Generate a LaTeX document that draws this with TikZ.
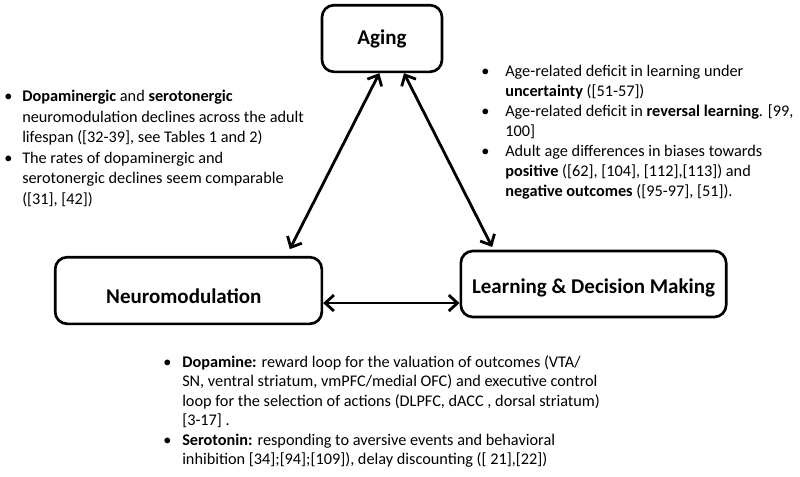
\documentclass[tikz,border=0pt]{standalone}
\usepackage{fontspec}
\setmainfont{Carlito}
\usetikzlibrary{arrows.meta}
\newcommand{\itm}[1]{\makebox[#1][l]{\textbullet}}
\newcommand{\cnt}[1]{\hspace*{#1}}
\newcommand{\baixa}[2]{\raisebox{-#1}[\height][\depth]{#2}}

\begin{document}
\begin{tikzpicture}[x=0.75pt,y=-0.75pt,
 caixa/.style={draw,line width=2pt,rounded corners=9pt,font=\fontsize{15.75}{18}\selectfont\bfseries},
 fletxa/.style={line width=2.1pt,{Straight Barb[length=6.5pt,width=12pt]}-{Straight Barb[length=6.5pt,width=12pt]}},
 llista/.style={anchor=north west,inner sep=0pt,align=left}]
\useasboundingbox (0,0) rectangle (800,476);
\node[caixa,minimum width=90pt,minimum height=50pt] (aging) at (382,38.5) {Aging};
\node[caixa,minimum width=200pt,minimum height=50pt] (neuro) at (188.5,290.5) {\baixa{4.5pt}{Neuromodulation}\hspace*{7pt}};
\node[caixa,minimum width=199pt,minimum height=49.5pt] (learn) at (593.5,284) {\baixa{3pt}{Learning \& Decision Making}};
\draw[fletxa] ([xshift=-2pt]aging.south) -- ([xshift=76pt,yshift=5pt]neuro.north);
\draw[fletxa] ([xshift=16.5pt]aging.south) -- ([xshift=-76pt,yshift=2pt]learn.north);
\draw[fletxa] ([yshift=-9.4pt]neuro.east) -- ([yshift=-9.4pt]neuro.east -| learn.west);
\node[llista,font=\fontsize{12.2}{15.4}\selectfont] (tleft) at (4,90) {%
\itm{13.5pt}\textbf{Dopaminergic} and \textbf{serotonergic}\\
\cnt{13.5pt}neuromodulation declines across the adult\\
\cnt{13.5pt}lifespan ([32-39], see Tables 1 and 2)\\
\itm{13.5pt}The rates of dopaminergic and\\
\cnt{13.5pt}serotonergic declines seem comparable\\
\cnt{13.5pt}([31], [42])};
\node[llista,font=\fontsize{12.2}{15}\selectfont] (tright) at (481,65) {%
\itm{18pt}Age-related deficit in learning under\\
\cnt{18pt}\textbf{uncertainty} ([51-57])\\
\itm{18pt}Age-related deficit in \textbf{reversal learning}. [99,\\
\cnt{18pt}100]\\
\itm{18pt}Adult age differences in biases towards\\
\cnt{18pt}\textbf{positive} ([62], [104], [112],[113]) and\\
\cnt{18pt}\textbf{negative outcomes} ([95-97], [51]).};
\node[llista,font=\fontsize{12.2}{14.6}\selectfont] (tbottom) at (163,355) {%
\itm{14.25pt}\textbf{Dopamine:} reward loop for the valuation of outcomes (VTA/\\
\cnt{14.25pt}SN, ventral striatum, vmPFC/medial OFC) and executive control\\
\cnt{14.25pt}loop for the selection of actions (DLPFC, dACC , dorsal striatum)\\
\cnt{14.25pt}[3-17] .\\
\itm{14.25pt}\textbf{Serotonin:} responding to aversive events and behavioral\\
\cnt{14.25pt}inhibition [34];[94];[109]), delay discounting ([ 21],[22])};
\end{tikzpicture}
\end{document}
